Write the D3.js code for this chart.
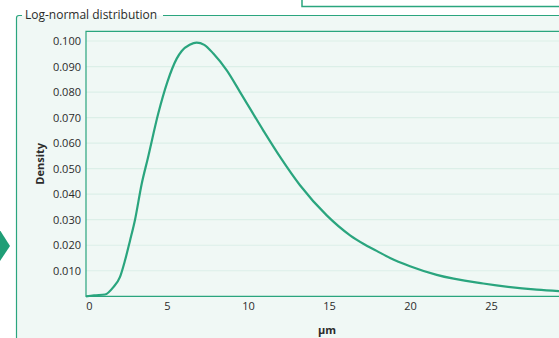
<!DOCTYPE html>
<html>
<head>
<meta charset="utf-8">
<script src="https://cdn.jsdelivr.net/npm/d3@7"></script>
<style>
  body { margin: 0; background: #fff; }
  text { font-family: "Open Sans", "Noto Sans", sans-serif; fill: #2b2b2b; }
</style>
</head>
<body>
<script>
// curve (µm, density)
const sizes = [0, 0.5, 1.17, 1.69, 2.1, 2.41, 2.72, 3.02, 3.44, 3.81, 4.46, 5.02, 5.6, 5.91, 6.4, 6.83, 7.3, 7.86, 8.69, 9.51, 10.94, 11.98, 13.21, 14.86, 16.3, 17.12, 17.94, 18.77, 20, 21.65, 24.52, 27.82, 30]
const density = [0, 0.0004, 0.0007, 0.0036, 0.0076, 0.0141, 0.0219, 0.0298, 0.0441, 0.0539, 0.0716, 0.0839, 0.0931, 0.0961, 0.0985, 0.0994, 0.0985, 0.0951, 0.0885, 0.08, 0.065, 0.0546, 0.0435, 0.0317, 0.0239, 0.0206, 0.0178, 0.015, 0.0118, 0.0084, 0.005, 0.0026, 0.0018]
const xTicks = [0, 5, 10, 15, 20, 25]
const yTicks = [0.01, 0.02, 0.03, 0.04, 0.05, 0.06, 0.07, 0.08, 0.09, 0.1]

const width = 559
const height = 338
const green = '#2aa57e'

const svg = d3.select('body')
  .append('svg')
  .attr('width', width)
  .attr('height', height)

// small box at top right
svg.append('rect')
  .attr('x', 302)
  .attr('y', -5)
  .attr('width', 300)
  .attr('height', 11.5)
  .attr('fill', '#fff')
  .attr('stroke', green)
  .attr('stroke-width', 1.5)

// arrow at left edge
svg.append('polygon')
  .attr('points', '-2,227 10,246 -2,264')
  .attr('fill', '#1f9e76')

// group box
svg.append('path')
  .attr('d', 'M16.5,345 V18 Q16.5,15.5 19,15.5 H600 V345 Z')
  .attr('fill', '#f0f8f5')
  .attr('stroke', 'none')
svg.append('path')
  .attr('d', 'M16.5,345 V18 Q16.5,15.5 19,15.5 H22 M163,15.5 H600')
  .attr('fill', 'none')
  .attr('stroke', green)
  .attr('stroke-width', 1.2)
svg.append('text')
  .attr('x', 25)
  .attr('y', 18.5)
  .attr('font-size', 12)
  .text('Log-normal distribution')

const x = d3.scaleLinear().domain([0, 30]).range([86, 572])
const y = d3.scaleLinear().domain([0, 0.1038]).range([296.3, 31.3])

// grid
svg.append('g')
  .selectAll('line')
  .data(yTicks)
  .enter()
  .append('line')
  .attr('x1', x(0))
  .attr('x2', x(30))
  .attr('y1', d => y(d))
  .attr('y2', d => y(d))
  .attr('stroke', '#dcefe8')
  .attr('stroke-width', 1.2)

// plot frame
svg.append('path')
  .attr('d', `M${x(30)},${y(0.1038)} H${x(0)} V${y(0)} H${x(30)}`)
  .attr('fill', 'none')
  .attr('stroke', green)
  .attr('stroke-width', 1.2)

const yAxis = svg.append('g')
  .attr('transform', `translate(${x(0)},0)`)
  .call(d3.axisLeft(y).tickValues(yTicks).tickFormat(d3.format('.3f')).tickSize(0).tickPadding(5))
yAxis.select('.domain').remove()
yAxis.selectAll('text').attr('font-size', 11).attr('font-family', '"Open Sans", sans-serif').attr('fill', '#2b2b2b')

const xAxis = svg.append('g')
  .attr('transform', `translate(0,${y(0)})`)
  .call(d3.axisBottom(x).tickValues(xTicks).tickSize(0).tickPadding(6))
xAxis.select('.domain').remove()
xAxis.selectAll('text').attr('font-size', 11).attr('font-family', '"Open Sans", sans-serif').attr('fill', '#2b2b2b')
xAxis.selectAll('.tick').filter(d => d === 0).select('text').attr('dx', 3)

svg.append('text')
  .attr('transform', `translate(44,${(y(0) + y(0.1038)) / 2}) rotate(-90)`)
  .attr('text-anchor', 'middle')
  .attr('font-size', 11)
  .attr('font-weight', 'bold')
  .text('Density')

svg.append('text')
  .attr('x', (x(0) + x(30)) / 2 - 2)
  .attr('y', 334)
  .attr('text-anchor', 'middle')
  .attr('font-size', 11)
  .attr('font-weight', 'bold')
  .text('µm')

const line = d3.line()
  .x((d, i) => x(sizes[i]))
  .y(d => y(d))
  .curve(d3.curveMonotoneX)

svg.append('path')
  .datum(density)
  .attr('d', line)
  .attr('fill', 'none')
  .attr('stroke', green)
  .attr('stroke-width', 2.2)
</script>
</body>
</html>
